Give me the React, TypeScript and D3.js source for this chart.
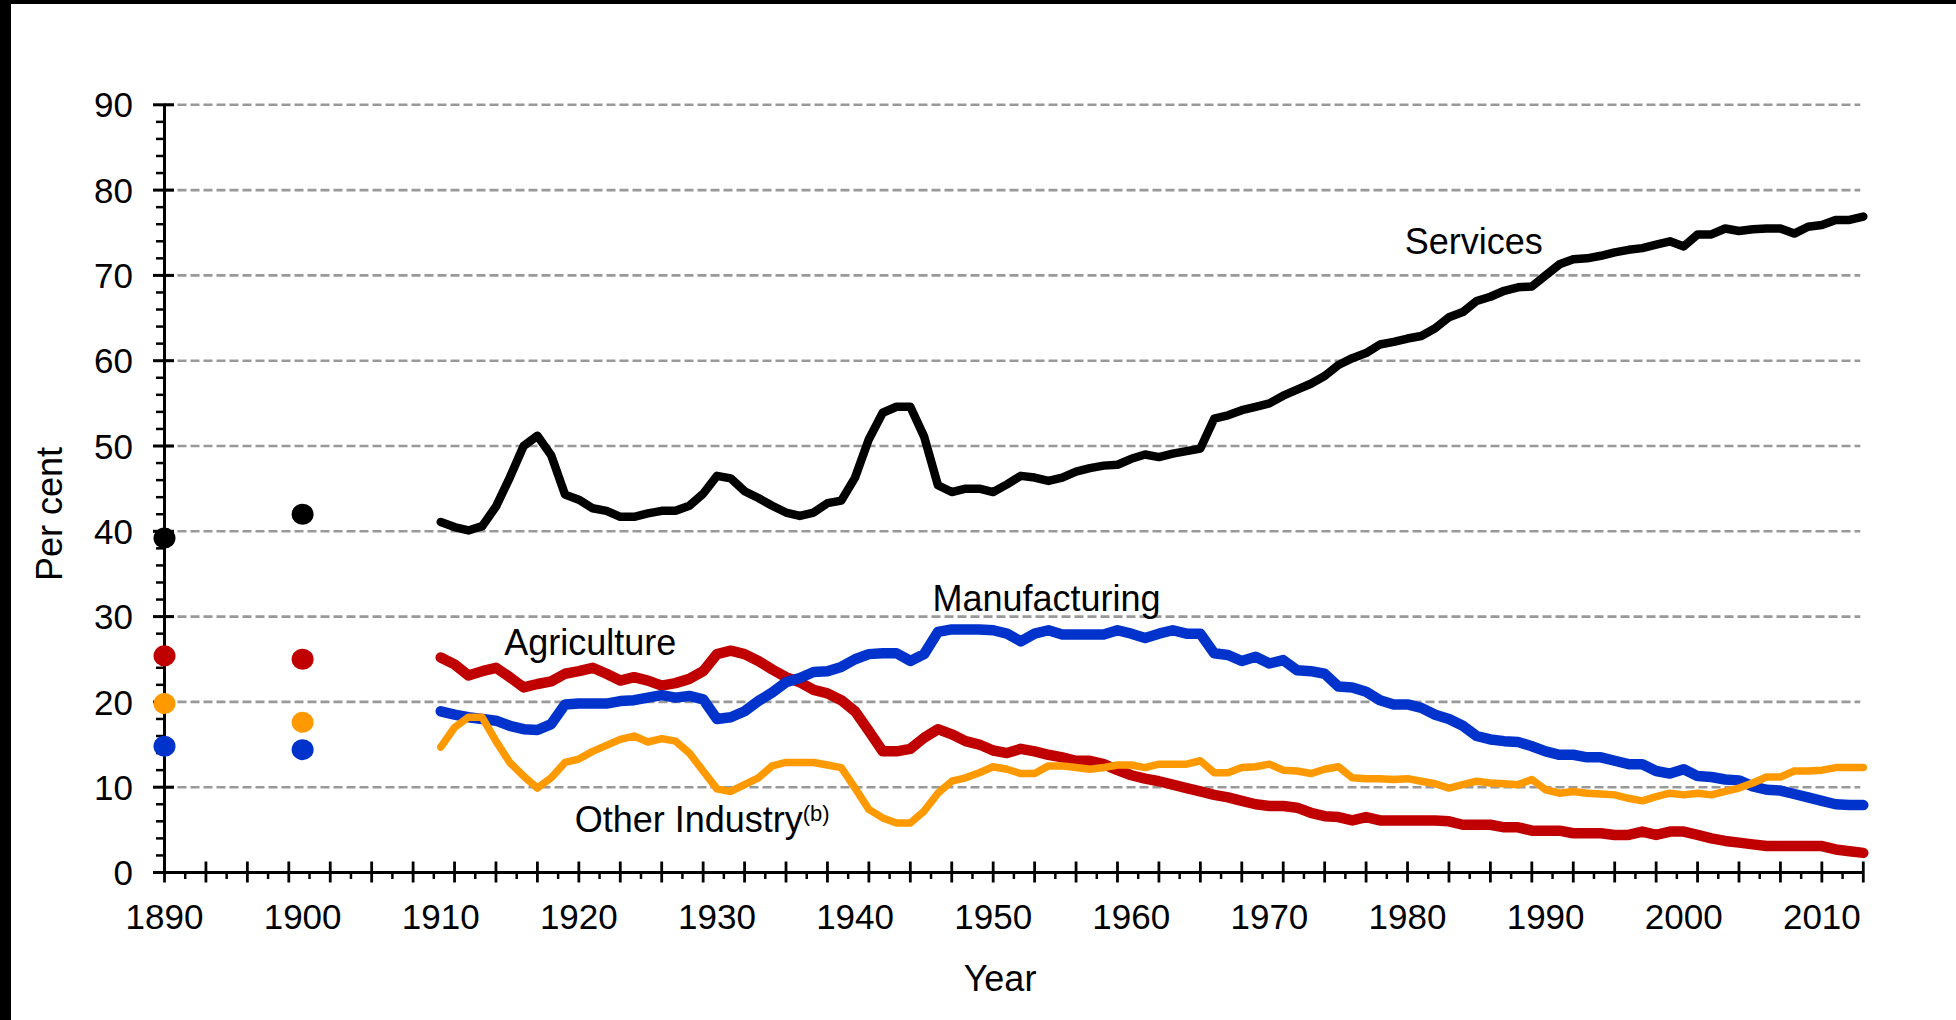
import React from "react";
import * as d3 from "d3";

// ---------- DATA ----------
const firstYear = 1910;
const lastYear = 2013;

const earlyYears = [1890, 1900];
const earlyServices = [39.2, 42.0];
const earlyAgriculture = [25.4, 25.0];
const earlyOtherIndustry = [19.8, 17.6];
const earlyManufacturing = [14.8, 14.4];

// annual values 1910..2013
const services = [
  41.1, 40.5, 40.1, 40.6, 42.9, 46.3, 50.0, 51.2, 48.9, 44.3,
  43.7, 42.7, 42.4, 41.7, 41.7, 42.1, 42.4, 42.4, 43.0, 44.4,
  46.5, 46.2, 44.7, 43.9, 43.0, 42.2, 41.8, 42.2, 43.3, 43.6,
  46.3, 50.8, 53.9, 54.6, 54.6, 51.1, 45.4, 44.6, 45.0, 45.0,
  44.6, 45.5, 46.5, 46.3, 45.9, 46.3, 47.0, 47.4, 47.7, 47.8,
  48.5, 49.0, 48.7, 49.1, 49.4, 49.7, 53.2, 53.6, 54.2, 54.6,
  55.0, 55.9, 56.6, 57.3, 58.2, 59.5, 60.3, 60.9, 61.9, 62.2,
  62.6, 62.9, 63.8, 65.1, 65.7, 67.0, 67.5, 68.2, 68.6, 68.7,
  70.0, 71.3, 71.9, 72.0, 72.3, 72.7, 73.0, 73.2, 73.6, 74.0,
  73.4, 74.8, 74.8, 75.5, 75.2, 75.4, 75.5, 75.5, 74.9, 75.7,
  75.9, 76.5, 76.5, 76.9,
];

const agriculture = [
  25.2, 24.4, 23.1, 23.6, 24.0, 22.9, 21.7, 22.1, 22.4, 23.3,
  23.6, 24.0, 23.3, 22.5, 22.9, 22.5, 21.9, 22.2, 22.7, 23.6,
  25.6, 26.0, 25.6, 24.8, 23.8, 22.9, 22.3, 21.4, 21.0, 20.2,
  18.9, 16.6, 14.2, 14.2, 14.5, 15.8, 16.8, 16.2, 15.4, 15.0,
  14.3, 14.0, 14.5, 14.2, 13.8, 13.5, 13.1, 13.1, 12.7, 12.0,
  11.4, 11.0, 10.7, 10.3, 9.9, 9.5, 9.1, 8.8, 8.4, 8.0,
  7.8, 7.8, 7.6, 7.0, 6.6, 6.5, 6.1, 6.5, 6.1, 6.1,
  6.1, 6.1, 6.1, 6.0, 5.6, 5.6, 5.6, 5.3, 5.3, 4.9,
  4.9, 4.9, 4.6, 4.6, 4.6, 4.4, 4.4, 4.8, 4.4, 4.8,
  4.8, 4.4, 4.0, 3.7, 3.5, 3.3, 3.1, 3.1, 3.1, 3.1,
  3.1, 2.7, 2.5, 2.3,
];

const manufacturing = [
  18.9, 18.5, 18.2, 18.0, 17.8, 17.2, 16.8, 16.7, 17.4, 19.7,
  19.8, 19.8, 19.8, 20.1, 20.2, 20.5, 20.8, 20.5, 20.7, 20.3,
  18.0, 18.2, 18.9, 20.1, 21.1, 22.3, 22.8, 23.5, 23.6, 24.1,
  25.0, 25.6, 25.7, 25.7, 24.8, 25.6, 28.2, 28.5, 28.5, 28.5,
  28.4, 28.0, 27.1, 28.0, 28.4, 27.9, 27.9, 27.9, 27.9, 28.4,
  28.0, 27.5, 28.0, 28.4, 28.0, 28.0, 25.7, 25.5, 24.8, 25.3,
  24.5, 24.9, 23.7, 23.6, 23.3, 21.8, 21.7, 21.2, 20.2, 19.7,
  19.7, 19.3, 18.5, 18.0, 17.2, 16.0, 15.6, 15.4, 15.3, 14.8,
  14.2, 13.8, 13.8, 13.5, 13.5, 13.1, 12.7, 12.7, 11.9, 11.6,
  12.1, 11.3, 11.2, 10.9, 10.8, 10.1, 9.7, 9.6, 9.2, 8.8,
  8.4, 8.0, 7.9, 7.9,
];

const otherIndustry = [
  14.7, 17.0, 18.2, 18.2, 15.4, 12.9, 11.3, 9.9, 11.1, 12.9,
  13.3, 14.2, 14.9, 15.6, 16.0, 15.3, 15.7, 15.4, 14.0, 11.9,
  9.8, 9.5, 10.3, 11.1, 12.5, 12.9, 12.9, 12.9, 12.6, 12.3,
  9.9, 7.4, 6.4, 5.8, 5.8, 7.2, 9.3, 10.7, 11.1, 11.7,
  12.4, 12.1, 11.6, 11.6, 12.5, 12.5, 12.3, 12.1, 12.3, 12.6,
  12.6, 12.3, 12.7, 12.7, 12.7, 13.1, 11.7, 11.7, 12.3, 12.4,
  12.7, 12.0, 11.9, 11.6, 12.1, 12.4, 11.1, 11.0, 11.0, 10.9,
  11.0, 10.7, 10.4, 9.9, 10.3, 10.7, 10.5, 10.4, 10.3, 10.9,
  9.7, 9.3, 9.5, 9.3, 9.2, 9.1, 8.7, 8.4, 8.9, 9.3,
  9.1, 9.3, 9.1, 9.5, 9.9, 10.5, 11.2, 11.2, 11.9, 11.9,
  12.0, 12.3, 12.3, 12.3,
];

const yTicks = [0, 10, 20, 30, 40, 50, 60, 70, 80, 90];
const xLabels = [1890, 1900, 1910, 1920, 1930, 1940, 1950, 1960, 1970, 1980, 1990, 2000, 2010];

const seriesColors = {
  agriculture: "#C00000",
  manufacturing: "#0033CC",
  otherIndustry: "#FF9900",
  services: "#000000",
};

// label anchors in data coordinates [year, value]
const labelServices = { text: "Services", year: 1979.8, value: 72.5 };
const labelManufacturing = { text: "Manufacturing", year: 1945.6, value: 30.65 };
const labelAgriculture = { text: "Agriculture", year: 1914.6, value: 25.5 };
const labelOther = { text: "Other Industry", sup: "(b)", year: 1919.7, value: 4.78 };

// ---------- CHART ----------
const W = 1956;
const H = 1020;
const FONT = "'Liberation Sans', Arial, Helvetica, sans-serif";

export default function App() {
  const x = d3.scaleLinear().domain([1890, 2013]).range([164.5, 1863.3]);
  const y = d3.scaleLinear().domain([0, 90]).range([872.5, 104.8]);

  const years = d3.range(firstYear, lastYear + 1);
  const mk = (vals: number[]) => years.map((yr, i) => [yr, vals[i]] as [number, number]);
  const line = d3
    .line<[number, number]>()
    .x((d) => x(d[0]))
    .y((d) => y(d[1]));

  const majorX = d3.range(1890, 2014, 3);
  const minorX = d3.range(1891.5, 2013, 3);
  const minorY = d3.range(2, 90, 2).filter((v) => v % 10 !== 0);

  const series = [
    { vals: agriculture, color: seriesColors.agriculture, w: 10.5 },
    { vals: manufacturing, color: seriesColors.manufacturing, w: 10.5 },
    { vals: otherIndustry, color: seriesColors.otherIndustry, w: 7.5 },
    { vals: services, color: seriesColors.services, w: 8.5 },
  ];

  const early = [
    { vals: earlyServices, color: seriesColors.services },
    { vals: earlyAgriculture, color: seriesColors.agriculture },
    { vals: earlyOtherIndustry, color: seriesColors.otherIndustry },
    { vals: earlyManufacturing, color: seriesColors.manufacturing },
  ];

  const axisX0 = x(1890);
  const axisY0 = y(0);

  return (
    <svg
      width={W}
      height={H}
      viewBox={`0 0 ${W} ${H}`}
      style={{ position: "absolute", left: 0, top: 0, background: "#fff" }}
      fontFamily={FONT}
    >
      <rect x={0} y={0} width={W} height={H} fill="#fff" />
      {/* frame edges */}
      <rect x={0} y={0} width={11} height={H} fill="#000" />
      <rect x={0} y={0} width={W} height={4} fill="#000" />

      {/* gridlines */}
      {yTicks
        .filter((v) => v > 0)
        .map((v) => (
          <line
            key={"g" + v}
            x1={axisX0}
            x2={x(2013) - 3}
            y1={y(v)}
            y2={y(v)}
            stroke="#999999"
            strokeWidth={2.6}
            strokeDasharray="9,4"
          />
        ))}

      {/* y axis */}
      <line x1={axisX0} x2={axisX0} y1={y(90) - 1} y2={axisY0} stroke="#000" strokeWidth={3} />
      {yTicks.map((v) => (
        <line key={"ym" + v} x1={153} x2={174} y1={y(v)} y2={y(v)} stroke="#000" strokeWidth={3} />
      ))}
      {minorY.map((v) => (
        <line key={"yn" + v} x1={156} x2={axisX0} y1={y(v)} y2={y(v)} stroke="#000" strokeWidth={2.5} />
      ))}
      {yTicks.map((v) => (
        <text
          key={"yl" + v}
          x={133}
          y={y(v)}
          dy="0.36em"
          textAnchor="end"
          fontSize={35}
          fill="#000"
        >
          {v}
        </text>
      ))}

      {/* x axis */}
      <line x1={axisX0} x2={x(2013)} y1={axisY0} y2={axisY0} stroke="#000" strokeWidth={3} />
      {majorX.map((yr) => (
        <line key={"xm" + yr} x1={x(yr)} x2={x(yr)} y1={axisY0 - 11} y2={axisY0 + 10} stroke="#000" strokeWidth={2.8} />
      ))}
      {minorX.map((yr) => (
        <line key={"xn" + yr} x1={x(yr)} x2={x(yr)} y1={axisY0} y2={axisY0 + 6.5} stroke="#000" strokeWidth={2.5} />
      ))}
      {xLabels.map((yr) => (
        <text key={"xl" + yr} x={x(yr)} y={929} textAnchor="middle" fontSize={35} fill="#000">
          {yr}
        </text>
      ))}

      {/* axis titles */}
      <text x={1000} y={991} textAnchor="middle" fontSize={36} fill="#000">
        Year
      </text>
      <text
        transform={`translate(62,514) rotate(-90)`}
        textAnchor="middle"
        fontSize={36}
        fill="#000"
      >
        Per cent
      </text>

      {/* series lines */}
      {series.map((s, i) => (
        <path
          key={"s" + i}
          d={line(mk(s.vals)) || ""}
          fill="none"
          stroke={s.color}
          strokeWidth={s.w}
          strokeLinejoin="round"
          strokeLinecap="round"
        />
      ))}

      {/* early census points */}
      {early.map((e, i) =>
        e.vals.map((v, j) => (
          <ellipse key={`e${i}-${j}`} cx={x(earlyYears[j])} cy={y(v)} rx={11} ry={10.5} fill={e.color} />
        ))
      )}

      {/* series labels */}
      <text x={x(labelServices.year)} y={y(labelServices.value)} fontSize={36} fill="#000">
        {labelServices.text}
      </text>
      <text x={x(labelManufacturing.year)} y={y(labelManufacturing.value)} fontSize={36} fill="#000">
        {labelManufacturing.text}
      </text>
      <text x={x(labelAgriculture.year)} y={y(labelAgriculture.value)} fontSize={36} fill="#000">
        {labelAgriculture.text}
      </text>
      <text x={x(labelOther.year)} y={y(labelOther.value)} fontSize={36} fill="#000">
        {labelOther.text}
        <tspan fontSize={22} dy={-11}>
          {labelOther.sup}
        </tspan>
      </text>
    </svg>
  );
}
